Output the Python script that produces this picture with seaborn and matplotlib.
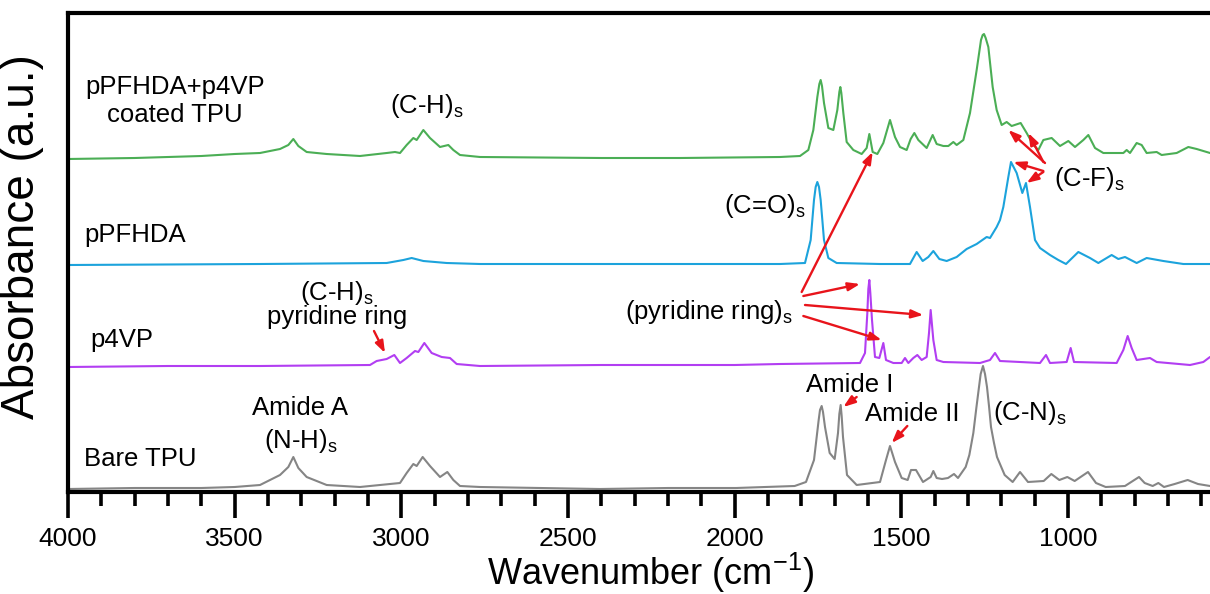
import numpy as np
import pandas as pd
import matplotlib
matplotlib.use('Agg')
import matplotlib.pyplot as plt
from matplotlib.ticker import MultipleLocator
import seaborn as sns

# Spectra (absorbance above each trace's own baseline, a.u.)
bare_wn = [4000, 3800, 3600, 3500, 3424, 3364, 3339, 3324, 3309, 3284, 3224, 3124, 3004, 2984,
           2964, 2954, 2936, 2914, 2884, 2862, 2844, 2824, 2764, 2404, 2200, 1996, 1820, 1786,
           1762, 1748, 1744, 1739, 1735, 1729, 1715, 1700, 1690, 1686, 1682, 1679, 1675, 1663,
           1634, 1564, 1546, 1534, 1519, 1499, 1481, 1471, 1456, 1435, 1412, 1404, 1394, 1378,
           1360, 1342, 1330, 1307, 1296, 1284, 1275, 1267, 1262, 1255, 1249, 1243, 1237, 1231,
           1222, 1213, 1190, 1166, 1144, 1120, 1073, 1050, 1026, 1002, 980, 940, 916, 887, 829,
           787, 770, 746, 729, 712, 680, 641, 610, 574]
bare_abs = [-0.01, 0.00, 0.00, 0.01, 0.03, 0.13, 0.21, 0.31, 0.20, 0.11, 0.03, 0.01, 0.05, 0.15,
            0.24, 0.22, 0.31, 0.22, 0.11, 0.16, 0.08, 0.02, 0.01, -0.01, 0.00, 0.00, 0.02, 0.06,
            0.28, 0.68, 0.78, 0.82, 0.76, 0.61, 0.35, 0.29, 0.55, 0.74, 0.83, 0.72, 0.51, 0.13,
            0.03, 0.06, 0.28, 0.42, 0.26, 0.10, 0.08, 0.18, 0.18, 0.06, 0.11, 0.17, 0.10, 0.09,
            0.10, 0.14, 0.10, 0.21, 0.33, 0.55, 0.80, 1.01, 1.14, 1.22, 1.14, 1.01, 0.82, 0.61,
            0.45, 0.31, 0.13, 0.06, 0.16, 0.06, 0.07, 0.14, 0.08, 0.11, 0.07, 0.16, 0.05, 0.01, 0.02,
            0.11, 0.05, 0.02, 0.05, 0.01, 0.04, 0.08, 0.04, 0.02]

p4vp_wn = [4000, 3700, 3424, 3094, 3074, 3044, 3021, 3004, 2984, 2959, 2949, 2931, 2909, 2879,
           2854, 2834, 2764, 2400, 2000, 1864, 1624, 1609, 1602, 1599, 1596, 1593, 1588, 1579,
           1566, 1554, 1546, 1524, 1499, 1489, 1479, 1464, 1452, 1439, 1424, 1417, 1412, 1404,
           1394, 1374, 1264, 1234, 1219, 1204, 1084, 1066, 1054, 1004, 992, 982, 854, 834, 821,
           809, 794, 754, 734, 634, 594, 574]
p4vp_abs = [-0.02, -0.01, -0.01, 0.00, 0.04, 0.06, 0.10, 0.02, 0.07, 0.14, 0.13, 0.22, 0.12, 0.08,
            0.07, 0.01, -0.01, 0.00, 0.00, 0.01, 0.02, 0.12, 0.52, 0.76, 0.85, 0.72, 0.45, 0.08,
            0.07, 0.22, 0.05, 0.02, 0.02, 0.07, 0.02, 0.07, 0.10, 0.05, 0.08, 0.32, 0.55, 0.25,
            0.05, 0.03, 0.02, 0.05, 0.12, 0.04, 0.02, 0.10, 0.02, 0.03, 0.17, 0.03, 0.02, 0.15, 0.29,
            0.17, 0.05, 0.07, 0.03, 0.00, 0.03, 0.08]

pfhda_wn = [4000, 3424, 3044, 2994, 2969, 2934, 2864, 2764, 2300, 1864, 1789, 1772, 1762, 1757,
            1752, 1747, 1742, 1732, 1719, 1694, 1564, 1474, 1454, 1436, 1419, 1404, 1386, 1364,
            1334, 1304, 1274, 1244, 1234, 1214, 1204, 1194, 1179, 1171, 1154, 1137, 1126, 1114,
            1099, 1084, 1054, 1029, 1006, 969, 934, 909, 869, 849, 829, 794, 764, 714, 654, 574]
pfhda_abs = [-0.01, 0.00, 0.01, 0.04, 0.06, 0.03, 0.01, 0.00, 0.00, 0.00, 0.01, 0.24, 0.64, 0.77,
             0.82, 0.77, 0.64, 0.24, 0.06, 0.01, 0.00, 0.00, 0.12, 0.03, 0.07, 0.13, 0.05, 0.03,
             0.07, 0.15, 0.20, 0.27, 0.26, 0.37, 0.44, 0.57, 0.87, 1.02, 0.91, 0.71, 0.81, 0.57,
             0.24, 0.16, 0.09, 0.04, 0.00, 0.12, 0.06, 0.01, 0.09, 0.05, 0.07, 0.01, 0.06, 0.03,
             0.00, 0.00]

coated_wn = [4000, 3800, 3600, 3500, 3424, 3364, 3339, 3324, 3309, 3284, 3224, 3124, 3044, 3019,
             3004, 2984, 2964, 2954, 2934, 2914, 2884, 2859, 2844, 2824, 2764, 2400, 2164, 1864,
             1804, 1779, 1764, 1752, 1746, 1742, 1738, 1732, 1719, 1704, 1692, 1686, 1683, 1680,
             1674, 1664, 1644, 1619, 1604, 1596, 1586, 1572, 1554, 1534, 1519, 1504, 1484, 1472,
             1461, 1449, 1424, 1406, 1394, 1374, 1359, 1344, 1334, 1314, 1294, 1274, 1261, 1256,
             1252, 1247, 1239, 1226, 1214, 1199, 1184, 1169, 1142, 1124, 1104, 1089, 1074, 1049,
             1024, 999, 979, 954, 939, 919, 894, 834, 824, 814, 794, 779, 764, 734, 719, 674,
             639, 614, 574]
coated_abs = [-0.02, -0.01, 0.01, 0.03, 0.04, 0.08, 0.12, 0.18, 0.11, 0.05, 0.03, 0.01, 0.04, 0.05,
              0.04, 0.12, 0.19, 0.17, 0.27, 0.19, 0.10, 0.12, 0.07, 0.02, 0.00, -0.01, -0.01, 0.00,
              0.01, 0.07, 0.27, 0.60, 0.73, 0.77, 0.71, 0.54, 0.29, 0.27, 0.47, 0.65, 0.70, 0.64,
              0.44, 0.15, 0.07, 0.03, 0.09, 0.23, 0.05, 0.03, 0.14, 0.37, 0.20, 0.10, 0.07, 0.18,
              0.24, 0.17, 0.09, 0.22, 0.13, 0.11, 0.11, 0.15, 0.12, 0.17, 0.44, 0.87, 1.17, 1.22,
              1.23, 1.19, 1.10, 0.70, 0.47, 0.32, 0.35, 0.31, 0.34, 0.24, 0.12, 0.07, 0.17, 0.19,
              0.11, 0.16, 0.10, 0.17, 0.22, 0.09, 0.04, 0.04, 0.07, 0.04, 0.14, 0.12, 0.04, 0.05,
              0.02, 0.04, 0.10, 0.08, 0.04]

samples = ['Bare TPU', 'p4VP', 'pPFHDA', 'pPFHDA+p4VP coated TPU']
offsets = {'Bare TPU': 0.04, 'p4VP': 1.27, 'pPFHDA': 2.28, 'pPFHDA+p4VP coated TPU': 3.35}
colors = {'Bare TPU': '#858585', 'p4VP': '#b23ef2', 'pPFHDA': '#1ca3dc',
          'pPFHDA+p4VP coated TPU': '#4bae55'}
spectra = {'Bare TPU': (bare_wn, bare_abs), 'p4VP': (p4vp_wn, p4vp_abs),
           'pPFHDA': (pfhda_wn, pfhda_abs), 'pPFHDA+p4VP coated TPU': (coated_wn, coated_abs)}

frames = []
for name in samples:
    wn, ab = spectra[name]
    frames.append(pd.DataFrame({'Wavenumber': wn,
                                'Absorbance': np.array(ab) + offsets[name],
                                'Sample': name}))
df = pd.concat(frames, ignore_index=True)

sns.set_style('white')
plt.rcParams['font.family'] = ['Liberation Sans', 'DejaVu Sans']
plt.rcParams['mathtext.default'] = 'regular'
plt.rcParams['text.color'] = 'black'
plt.rcParams['axes.labelcolor'] = 'black'
plt.rcParams['xtick.color'] = 'black'

fig = plt.figure(figsize=(12.1, 5.94), dpi=100)
ax = fig.add_axes([68 / 1210, 102 / 594, 1 - 68 / 1210, 479 / 594])

sns.lineplot(data=df, x='Wavenumber', y='Absorbance', hue='Sample', palette=colors,
             estimator=None, sort=False, lw=1.5, legend=False, ax=ax)

ax.set_xlim(4000, 574)
ax.set_ylim(0, 4.79)
ax.set_yticks([])
ax.xaxis.set_major_locator(MultipleLocator(500))
ax.xaxis.set_minor_locator(MultipleLocator(100))
ax.tick_params(axis='x', which='major', direction='out', length=19, width=2.6,
               labelsize=19, pad=6, color='black', labelcolor='black', bottom=True)
ax.tick_params(axis='x', which='minor', direction='out', length=10, width=2.6,
               color='black', bottom=True)
for side in ['left', 'bottom', 'top']:
    ax.spines[side].set_linewidth(3)
    ax.spines[side].set_color('black')
ax.spines['right'].set_visible(False)

ax.set_xlabel('Wavenumber (cm$^{-1}$)', fontsize=26)
ax.xaxis.set_label_coords(0.51, -0.122)
ax.set_ylabel('Absorbance (a.u.)', fontsize=33)
ax.yaxis.set_label_coords(-0.021, 0.533)

fs = 18.5
# sample names
ax.text(3679, 3.91, 'pPFHDA+p4VP\ncoated TPU', ha='center', va='center', fontsize=fs,
        multialignment='center')
ax.text(3952, 2.50, 'pPFHDA', ha='left', va='baseline', fontsize=fs)
ax.text(3934, 1.45, 'p4VP', ha='left', va='baseline', fontsize=fs)
ax.text(3952, 0.26, 'Bare TPU', ha='left', va='baseline', fontsize=fs)

# band assignments
ax.text(3034, 3.79, '(C-H)$_s$', ha='left', va='baseline', fontsize=fs)
ax.text(3193, 1.92, '(C-H)$_s$', ha='center', va='baseline', fontsize=fs)
ax.text(3193, 1.68, 'pyridine ring', ha='center', va='baseline', fontsize=fs)
ax.text(3305, 0.77, 'Amide A', ha='center', va='baseline', fontsize=fs)
ax.text(3301, 0.44, '(N-H)$_s$', ha='center', va='baseline', fontsize=fs)
ax.text(2032, 2.79, '(C=O)$_s$', ha='left', va='baseline', fontsize=fs)
ax.text(1042, 3.06, '(C-F)$_s$', ha='left', va='baseline', fontsize=fs)
ax.text(2329, 1.73, '(pyridine ring)$_s$', ha='left', va='baseline', fontsize=fs)
ax.text(1786, 1.00, 'Amide I', ha='left', va='baseline', fontsize=fs)
ax.text(1610, 0.71, 'Amide II', ha='left', va='baseline', fontsize=fs)
ax.text(1225, 0.72, '(C-N)$_s$', ha='left', va='baseline', fontsize=fs)

# red arrows (start -> head)
arrows = [((1069, 3.29), (1179, 3.62)),
          ((1074, 3.30), (1119, 3.59)),
          ((1074, 3.21), (1164, 3.30)),
          ((1074, 3.20), (1124, 3.09)),
          ((1799, 2.00), (1586, 3.40)),
          ((1794, 1.96), (1624, 2.08)),
          ((1789, 1.87), (1434, 1.77)),
          ((1794, 1.76), (1559, 1.52)),
          ((3082, 1.61), (3049, 1.39)),
          ((1634, 0.95), (1674, 0.85)),
          ((1482, 0.66), (1529, 0.49))]
for start, end in arrows:
    ax.annotate('', xy=end, xytext=start,
                arrowprops=dict(arrowstyle='-|>,head_length=0.7,head_width=0.25',
                                color='#e8141b', lw=1.7, shrinkA=0, shrinkB=0))

fig.savefig('out.png', dpi=100)
